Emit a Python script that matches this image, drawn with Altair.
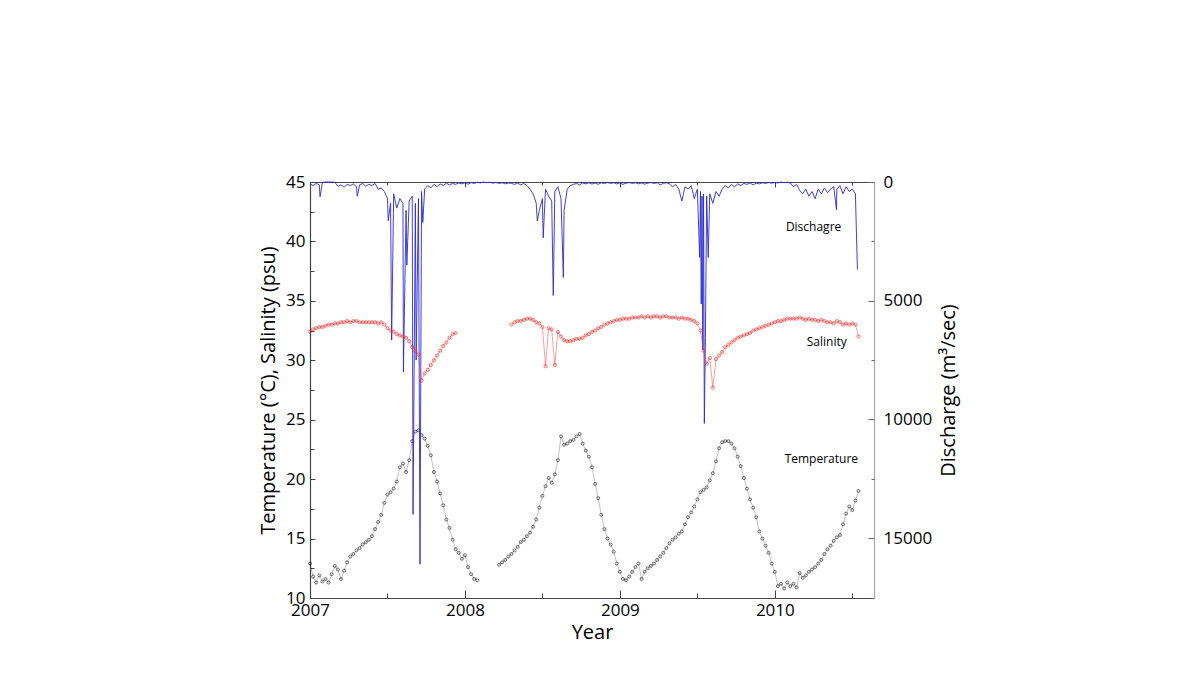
import altair as alt
import pandas as pd

STEP = 0.02  # sampling step in years of the values

# ---- Temperature (deg C) ----
temp_seg1_start = 2007.00
temp_seg1 = [12.9, 11.8, 11.3, 11.9, 11.4, 11.6, 11.3, 12.0, 12.7, 12.4,
             11.6, 12.3, 13.0, 13.5, 13.7, 14.0, 14.2, 14.5, 14.7, 14.9,
             15.2, 15.8, 16.4, 17.0, 18.0, 18.7, 18.9, 19.2, 19.8, 21.0,
             21.3, 20.6, 21.6, 23.2, 24.0, 24.1, 23.7, 23.4, 22.8, 22.0,
             20.6, 19.8, 18.8, 17.8, 16.6, 15.9, 14.9, 14.1, 13.8, 13.3,
             13.6, 12.6, 12.0, 11.6, 11.5]
temp_seg2_start = 2008.22
temp_seg2 = [12.8, 13.0, 13.2, 13.5, 13.7, 14.0, 14.3, 14.7, 14.9, 15.2,
             15.5, 16.0, 16.6, 17.6, 18.6, 19.4, 20.1, 19.7, 20.4, 21.6,
             23.6, 22.9, 23.0, 23.2, 23.3, 23.6, 23.8, 23.0, 22.4, 21.9,
             21.0, 19.6, 18.4, 17.0, 15.8, 15.0, 14.5, 13.9, 12.9, 12.2,
             11.6, 11.5, 11.8, 12.2, 12.6, 12.9, 11.6, 12.2, 12.5, 12.7,
             12.9, 13.2, 13.5, 13.8, 14.2, 14.6, 14.9, 15.1, 15.4, 15.6,
             16.2, 16.8, 17.2, 17.7, 18.3, 18.9, 19.1, 19.3, 19.9, 20.5,
             21.5, 22.6, 23.1, 23.2, 23.2, 23.0, 22.6, 21.9, 21.1, 20.1,
             19.2, 18.3, 17.6, 16.8, 15.6, 15.0, 14.4, 13.8, 12.9, 12.2,
             11.0, 11.2, 10.8, 11.3, 11.0, 11.2, 10.9, 12.1, 11.7, 11.9,
             12.2, 12.4, 12.6, 12.9, 13.2, 13.7, 14.1, 14.4, 14.8, 15.1,
             15.3, 16.2, 17.1, 17.7, 17.4, 18.2, 19.0]

# ---- Salinity (psu) ----
sal_seg1_start = 2007.00
sal_seg1 = [32.4, 32.6, 32.7, 32.8, 32.8, 32.9, 33.0, 33.0, 33.1, 33.1,
            33.2, 33.2, 33.3, 33.2, 33.3, 33.3, 33.2, 33.2, 33.2, 33.2,
            33.2, 33.2, 33.1, 33.2, 33.0, 32.7, 32.5, 32.4, 32.2, 32.1,
            32.0, 31.9, 31.6, 31.1, 30.8, 30.5, 28.3, 28.9, 29.2, 29.6,
            30.0, 30.4, 30.8, 31.2, 31.5, 31.9, 32.2, 32.3]
sal_seg2_start = 2008.30
sal_seg2 = [33.0, 33.2, 33.3, 33.3, 33.4, 33.5, 33.5, 33.4, 33.2, 33.1,
            32.8, 29.5, 32.7, 32.6, 29.6, 32.4, 32.0, 31.7, 31.6, 31.6,
            31.7, 31.8, 31.8, 31.9, 32.1, 32.2, 32.4, 32.5, 32.7, 32.8,
            33.0, 33.1, 33.2, 33.3, 33.4, 33.4, 33.5, 33.5, 33.5, 33.6,
            33.6, 33.6, 33.7, 33.6, 33.7, 33.6, 33.7, 33.7, 33.6, 33.7,
            33.7, 33.6, 33.6, 33.6, 33.5, 33.6, 33.5, 33.5, 33.4, 33.3,
            33.1, 32.5, 30.8, 29.7, 30.2, 27.7, 30.1, 30.4, 30.7, 31.1,
            31.3, 31.5, 31.7, 31.9, 32.0, 32.1, 32.2, 32.3, 32.5, 32.6,
            32.7, 32.8, 32.9, 33.0, 33.1, 33.2, 33.3, 33.3, 33.4, 33.5,
            33.5, 33.5, 33.5, 33.6, 33.5, 33.4, 33.5, 33.4, 33.4, 33.3,
            33.4, 33.3, 33.2, 33.2, 33.1, 33.3, 33.2, 33.0, 33.1, 33.0,
            33.1, 33.0, 32.0]

# ---- Discharge (m3/sec) ----
dis_base_start = 2007.00
dis_base = [80, 150, 60, 120, 20, 0, 0, 0, 10, 180,
            120, 220, 100, 150, 80, 200, 120, 60, 180, 100,
            150, 60, 300, 250, 400, 700, 900, 500, 1100, 700,
            900, 1200, 800, 600, 900, 700, 400, 300, 150, 250,
            100, 200, 80, 150, 50, 120, 60, 100, 40, 80,
            30, 100, 20, 60, 10, 40, 0, 30, 10, 50,
            20, 60, 30, 80, 40, 60, 100, 50, 120, 60,
            150, 300, 500, 900, 1200, 700, 300, 600, 800, 400,
            200, 700, 1200, 300, 150, 100, 60, 120, 40, 80,
            30, 90, 40, 100, 30, 70, 20, 60, 30, 80,
            40, 100, 50, 20, 60, 30, 80, 40, 90, 50,
            20, 60, 30, 120, 60, 30, 80, 200, 100, 300,
            800, 200, 300, 150, 700, 300, 400, 500, 600, 500,
            900, 400, 600, 300, 150, 250, 100, 200, 80, 150,
            60, 100, 40, 120, 50, 80, 30, 60, 20, 50,
            20, 40, 0, 30, 10, 40, 200, 100, 350, 500,
            300, 600, 400, 700, 300, 500, 250, 450, 300, 200,
            300, 150, 500, 200, 400, 300, 500]
spike_years = [2007.065, 2007.305, 2007.505, 2007.527, 2007.603, 2007.625,
               2007.665, 2007.685, 2007.710, 2007.728,
               2008.467, 2008.505, 2008.570, 2008.635,
               2009.515, 2009.525, 2009.530, 2009.535, 2009.545, 2009.552, 2009.570,
               2010.398, 2010.533]
spike_values = [620, 600, 1630, 6660, 8000, 3500,
                14000, 7500, 16100, 1700,
                1640, 2350, 4780, 4020,
                3180, 5140, 600, 7070, 10170, 6540, 3180,
                1170, 3690]

# ---- Annotations ----
ann_text = ["Dischagre", "Salinity", "Temperature"]
ann_year = [2010.25, 2010.335, 2010.30]
ann_level = [41.2, 31.5, 21.7]

# ---- Axis values ----
year_labels = [2007, 2008, 2009, 2010]
x_ticks = [2007, 2007.5, 2008, 2008.5, 2009, 2009.5, 2010, 2010.5]
left_labels = [10, 15, 20, 25, 30, 35, 40, 45]
left_ticks = [10, 12.5, 15, 17.5, 20, 22.5, 25, 27.5, 30, 32.5, 35, 37.5, 40, 42.5, 45]
right_labels = [0, 5000, 10000, 15000]
right_ticks = [0, 2500, 5000, 7500, 10000, 12500, 15000, 17500]


def seg_df(start, vals, seg):
    return pd.DataFrame({
        "year": [round(start + i * STEP, 4) for i in range(len(vals))],
        "value": vals,
        "seg": seg,
    })


temp_df = pd.concat([seg_df(temp_seg1_start, temp_seg1, "a"),
                     seg_df(temp_seg2_start, temp_seg2, "b")])
sal_df = pd.concat([seg_df(sal_seg1_start, sal_seg1, "a"),
                    seg_df(sal_seg2_start, sal_seg2, "b")])
dis_df = pd.concat([
    seg_df(dis_base_start, dis_base, "a"),
    pd.DataFrame({"year": spike_years, "value": spike_values, "seg": "a"}),
]).sort_values("year")
ann_df = pd.DataFrame({"year": ann_year, "value": ann_level, "label": ann_text})

W, H = 564, 416
FONT = "Open Sans"
TICK = "#444444"
LBL = 17

xscale = alt.Scale(domain=[2007, 2010.64], nice=False, zero=False)
yL = alt.Scale(domain=[10, 45], nice=False, zero=False)
yR = alt.Scale(domain=[0, 17520], reverse=True, nice=False, zero=False)


def cond(test, a, b):
    return {"condition": {"test": test, "value": a}, "value": b}


ax_bottom = alt.Axis(orient="bottom", values=year_labels, format="d", ticks=False,
                     domain=True, domainColor=TICK, domainWidth=1.2, grid=False,
                     labelFont=FONT, labelFontSize=LBL, labelColor="black",
                     labelPadding=4, labelFlush=False, labelOverlap=False,
                     title="Year", titleFont=FONT, titleFontSize=20,
                     titleFontWeight="normal", titleColor="black", titlePadding=4)
ax_bottom_ticks = alt.Axis(orient="top", offset=-H, values=x_ticks, labels=False,
                           domain=False, grid=False, tickColor=TICK, tickWidth=1,
                           tickSize=cond("datum.value % 1 === 0", 8, 5), title=None)
ax_top = alt.Axis(orient="bottom", offset=-H, values=x_ticks, labels=False,
                  domain=True, domainColor=TICK, domainWidth=1.2, grid=False,
                  tickColor=TICK, tickWidth=1,
                  tickSize=cond("datum.value % 1 === 0", 5, 3), title=None)
ax_left = alt.Axis(orient="left", values=left_labels, ticks=False, domain=True,
                   domainColor=TICK, domainWidth=1.2, grid=False,
                   labelFont=FONT, labelFontSize=LBL, labelColor="black",
                   labelPadding=5, labelFlush=False, labelOverlap=False,
                   title="Temperature (°C), Salinity (psu)", titleFont=FONT,
                   titleFontSize=20, titleFontWeight="normal", titleColor="black",
                   titlePadding=7)
ax_left_ticks = alt.Axis(orient="right", offset=-W, values=left_ticks, labels=False,
                         domain=False, grid=False, tickColor=TICK, tickWidth=1,
                         tickSize=cond("datum.value % 5 === 0", 5, 4), title=None)
ax_right = alt.Axis(orient="right", values=right_labels, format="d", ticks=False,
                    domain=True, domainColor="#aaaaaa", domainWidth=1.2, grid=False,
                    labelFont=FONT, labelFontSize=LBL, labelColor="black",
                    labelPadding=9, labelFlush=False, labelOverlap=False,
                    title="Discharge (m³/sec)", titleFont=FONT, titleFontSize=20,
                    titleFontWeight="normal", titleColor="black", titlePadding=7,
                    titleAngle=270, titleBaseline="top")
ax_right_ticks = alt.Axis(orient="left", offset=-W, values=right_ticks, labels=False,
                          domain=False, grid=False, tickColor="#666666", tickWidth=1,
                          tickSize=cond("datum.value % 5000 === 0", 6, 3), title=None)

temp_line = alt.Chart(temp_df).mark_line(color="#333333", strokeWidth=0.5, opacity=0.6).encode(
    x=alt.X("year:Q", scale=xscale, axis=ax_bottom),
    y=alt.Y("value:Q", scale=yL, axis=ax_left),
    detail="seg:N",
)
temp_pts = alt.Chart(temp_df).mark_point(shape="circle", filled=False, size=9,
                                          strokeWidth=0.8, color="black").encode(
    x=alt.X("year:Q", scale=xscale, axis=ax_bottom_ticks),
    y=alt.Y("value:Q", scale=yL, axis=ax_left_ticks),
)
dis_line = alt.Chart(dis_df).mark_line(color="#2a2ad6", strokeWidth=0.9).encode(
    x=alt.X("year:Q", scale=xscale, axis=None),
    y=alt.Y("value:Q", scale=yR, axis=ax_right),
)
dis_ticks = alt.Chart(dis_df).mark_line(opacity=0).encode(
    x=alt.X("year:Q", scale=xscale, axis=None),
    y=alt.Y("value:Q", scale=yR, axis=ax_right_ticks),
)
sal_line = alt.Chart(sal_df).mark_line(color="#ff3030", strokeWidth=0.6, opacity=0.8).encode(
    x=alt.X("year:Q", scale=xscale, axis=ax_top),
    y=alt.Y("value:Q", scale=yL, axis=None),
    detail="seg:N",
)
sal_pts = alt.Chart(sal_df).mark_point(shape="circle", filled=False, size=10,
                                        strokeWidth=0.9, color="#ff2020").encode(
    x=alt.X("year:Q", scale=xscale, axis=None),
    y=alt.Y("value:Q", scale=yL, axis=None),
)
ann = alt.Chart(ann_df).mark_text(font=FONT, fontSize=12, color="black").encode(
    x=alt.X("year:Q", scale=xscale, axis=None),
    y=alt.Y("value:Q", scale=yL, axis=None),
    text="label:N",
)

chart = alt.layer(
    temp_line, temp_pts, dis_line, dis_ticks, sal_line, sal_pts, ann
).resolve_scale(y="independent").resolve_axis(x="independent", y="independent").properties(
    width=W, height=H,
    padding={"left": 302, "top": 174, "right": 200, "bottom": 70},
    autosize="none",
).configure_view(stroke=None).configure(background="white")

chart.save("out.html", embed_options={"renderer": "svg", "actions": False})
